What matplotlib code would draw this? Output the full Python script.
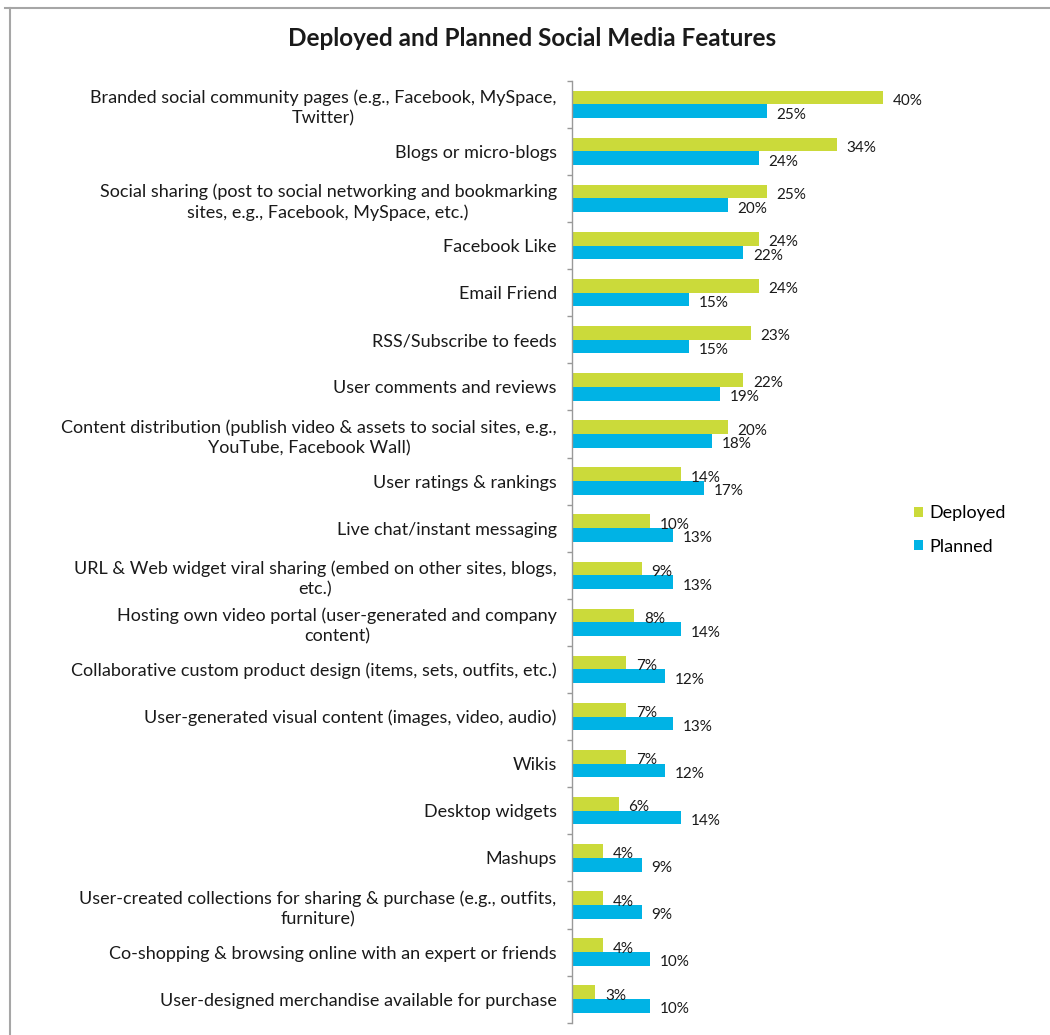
import matplotlib
matplotlib.use("Agg")
import matplotlib.pyplot as plt
from matplotlib.lines import Line2D
import numpy as np

plt.rcParams['font.family'] = ['Lato', 'DejaVu Sans']

categories = [
    "Branded social community pages (e.g., Facebook, MySpace,\nTwitter)",
    "Blogs or micro-blogs",
    "Social sharing (post to social networking and bookmarking\nsites, e.g., Facebook, MySpace, etc.)",
    "Facebook Like",
    "Email Friend",
    "RSS/Subscribe to feeds",
    "User comments and reviews",
    "Content distribution (publish video & assets to social sites, e.g.,\nYouTube, Facebook Wall)",
    "User ratings & rankings",
    "Live chat/instant messaging",
    "URL & Web widget viral sharing (embed on other sites, blogs,\netc.)",
    "Hosting own video portal (user-generated and company\ncontent)",
    "Collaborative custom product design (items, sets, outfits, etc.)",
    "User-generated visual content (images, video, audio)",
    "Wikis",
    "Desktop widgets",
    "Mashups",
    "User-created collections for sharing & purchase (e.g., outfits,\nfurniture)",
    "Co-shopping & browsing online with an expert or friends",
    "User-designed merchandise available for purchase",
]
deployed = [40, 34, 25, 24, 24, 23, 22, 20, 14, 10, 9, 8, 7, 7, 7, 6, 4, 4, 4, 3]
planned = [25, 24, 20, 22, 15, 15, 19, 18, 17, 13, 13, 14, 12, 13, 12, 14, 9, 9, 10, 10]
series_names = ["Deployed", "Planned"]
colors = ["#CBDA3A", "#00B3E5"]

W, H = 1050, 1035
fig = plt.figure(figsize=(W / 100, H / 100), dpi=100)

# outer frame (top and left edges)
fig.add_artist(Line2D([5 / W, 1.0], [1 - 7.5 / H, 1 - 7.5 / H], color="#A6A6A6", lw=1.5,
                      transform=fig.transFigure))
fig.add_artist(Line2D([10 / W, 10 / W], [0, 1 - 7.5 / H], color="#A6A6A6", lw=1.5,
                      transform=fig.transFigure))

left_px, right_px = 572, 572 + 45 * 7.78
top_px, bot_px = 80.7, 1022.7
ax = fig.add_axes([left_px / W, 1 - bot_px / H, (right_px - left_px) / W, (bot_px - top_px) / H])

n = len(categories)
y = np.arange(n)
h = 0.29
b1 = ax.barh(y - h / 2, deployed, height=h, color=colors[0], label=series_names[0])
b2 = ax.barh(y + h / 2, planned, height=h, color=colors[1], label=series_names[1])

for bars, vals in ((b1, deployed), (b2, planned)):
    for bar, v in zip(bars, vals):
        ax.annotate(f"{v}%", xy=(bar.get_width(), bar.get_y() + bar.get_height() / 2),
                    xytext=(7, -2.5), textcoords="offset points", ha="left", va="center",
                    fontsize=11, color="#1a1a1a")

ax.set_xlim(0, 45)
ax.set_ylim(n - 0.5, -0.5)

ax.set_yticks(y)
ax.set_yticklabels(categories, fontsize=13, color="#1a1a1a", linespacing=1.36)
for t in ax.get_yticklabels():
    t.set_multialignment("center")
ax.set_yticks(np.arange(n + 1) - 0.5, minor=True)
ax.tick_params(axis="y", which="major", length=0, pad=11)
ax.tick_params(axis="y", which="minor", length=3.5, width=1, color="#999999", direction="out")
ax.set_xticks([])

for s in ("top", "right", "bottom"):
    ax.spines[s].set_visible(False)
ax.spines["left"].set_color("#999999")
ax.spines["left"].set_linewidth(1)

fig.text(532 / W, 1 - 38 / H, "Deployed and Planned Social Media Features",
         ha="center", va="center", fontsize=17.5, fontweight="bold", color="#1a1a1a")

fig.legend(handles=[b1, b2], labels=series_names, loc="center left",
           bbox_to_anchor=(914 / W, 1 - 530 / H), frameon=False, fontsize=13,
           handlelength=0.5, handleheight=0.5, handletextpad=0.35, labelspacing=0.95,
           borderpad=0, borderaxespad=0)

fig.savefig("out.png", dpi=100, facecolor="white")
